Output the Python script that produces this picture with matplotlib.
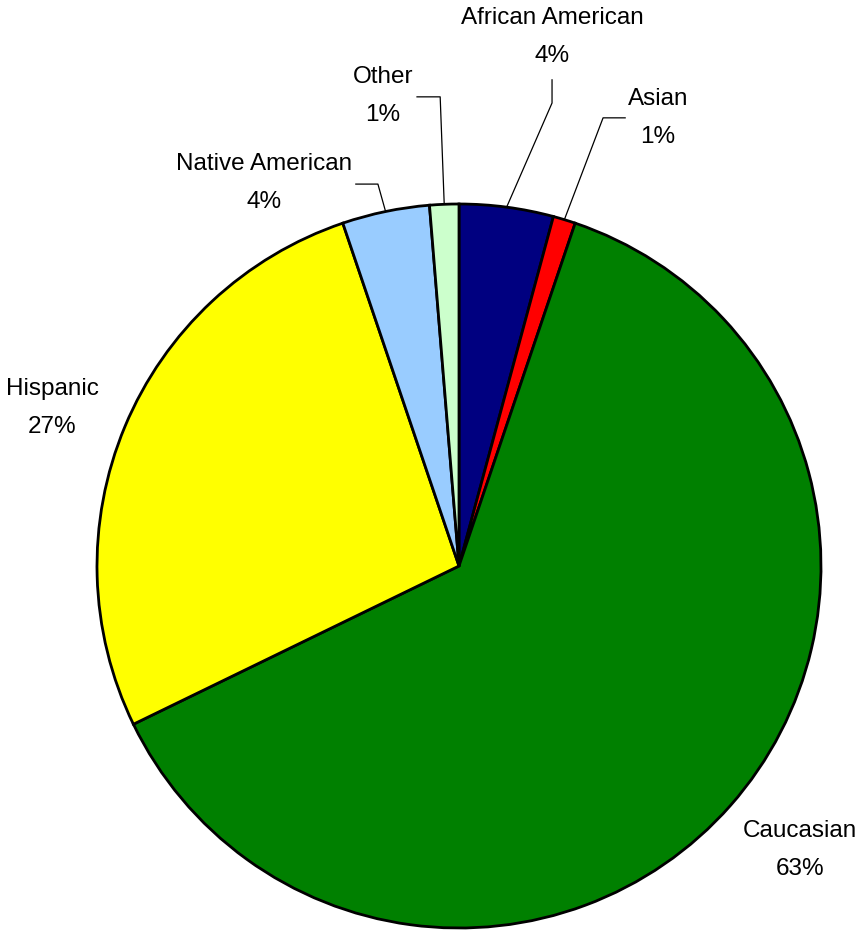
import numpy as np
import matplotlib.pyplot as plt

# data
groups = ["African American", "Asian", "Caucasian", "Hispanic", "Native American", "Other"]
shares = [4.2, 1.0, 62.6, 27.0, 3.9, 1.3]
colors = ["#000080", "#FF0000", "#008000", "#FFFF00", "#99CCFF", "#CCFFCC"]

# label layout (data units, pie radius = 1)
label_xy = [(0.257, 1.461), (0.549, 1.238), (0.942, -0.785),
            (-1.124, 0.436), (-0.539, 1.058), (-0.210, 1.298)]
# knee point and end of horizontal bit for leader lines (None = no leader)
knees = [((0.257, 1.279), (0.257, 1.343)),
         ((0.398, 1.238), (0.459, 1.238)),
         None,
         None,
         ((-0.224, 1.055), (-0.285, 1.055)),
         ((-0.052, 1.296), (-0.116, 1.296))]

plt.rcParams['font.family'] = ['Liberation Sans', 'DejaVu Sans']

fig = plt.figure(figsize=(8.65, 9.31), dpi=100)
r_px = 362
cx, cy = 459, 931 - 566
ax = fig.add_axes([(cx - r_px) / 865, (cy - r_px) / 931, 2 * r_px / 865, 2 * r_px / 931])

wedges, _ = ax.pie(shares, colors=colors, startangle=90, counterclock=False,
                   wedgeprops=dict(edgecolor="black", linewidth=2))
ax.set_xlim(-1, 1)
ax.set_ylim(-1, 1)
ax.set_aspect("equal")
ax.axis("off")

total = sum(shares)
for w, name, val, (lx, ly), k in zip(wedges, groups, shares, label_xy, knees):
    pct = round(val / total * 100)
    ax.text(lx, ly, f"{name}\n{pct}%", ha="center", va="center", fontsize=17.5,
            linespacing=1.95, clip_on=False)
    if k is not None:
        mid = np.deg2rad((w.theta1 + w.theta2) / 2)
        xs = [np.cos(mid), k[0][0], k[1][0]]
        ys = [np.sin(mid), k[0][1], k[1][1]]
        ax.plot(xs, ys, color="black", lw=0.9, clip_on=False)

fig.savefig("out.png", dpi=100)
